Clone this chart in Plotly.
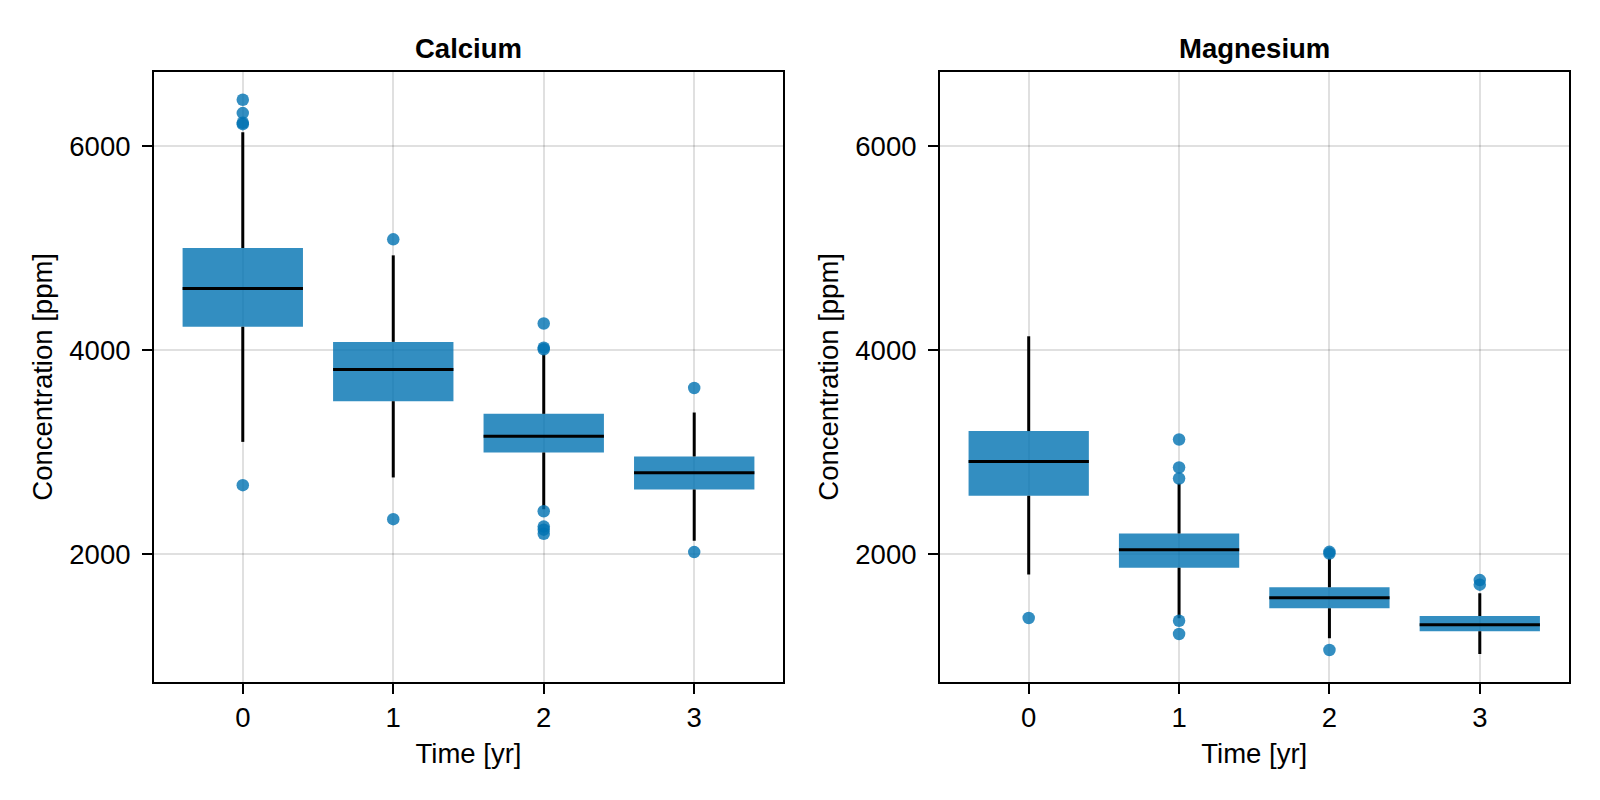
import plotly.graph_objects as go

# ---------------- data ----------------
years = [0, 1, 2, 3]

ca_q1 = [4230, 3500, 2997, 2634]
ca_median = [4605, 3810, 3157, 2797]
ca_q3 = [5003, 4082, 3376, 2958]
ca_lower = [3101, 2752, 2440, 2130]
ca_upper = [6140, 4931, 3960, 3389]
ca_out_x = [0, 0, 0, 0, 0, 1, 1, 2, 2, 2, 2, 2, 2, 2, 3, 3]
ca_out_y = [6458, 6327, 6232, 6218, 2676, 5088, 2343, 4262, 4025, 4010, 2420, 2270, 2240, 2200, 3630, 2020]

mg_q1 = [2572, 1866, 1468, 1242]
mg_median = [2909, 2042, 1572, 1307]
mg_q3 = [3207, 2203, 1674, 1392]
mg_lower = [1801, 1370, 1174, 1020]
mg_upper = [4137, 2693, 1958, 1615]
mg_out_x = [0, 1, 1, 1, 1, 1, 2, 2, 2, 3, 3]
mg_out_y = [1373, 3124, 2850, 2742, 1346, 1216, 2022, 2005, 1059, 1745, 1700]

panel_titles = ["Calcium", "Magnesium"]
x_title = "Time [yr]"
y_title = "Concentration [ppm]"
y_ticks = [2000, 4000, 6000]

# ---------------- style ----------------
FONT = "Liberation Sans, Arial, Helvetica, sans-serif"
FS = 27.5
FILL = "rgba(0,114,178,0.8)"
BOX_W = 0.8
LW = 3

fig = go.Figure()


def add_panel(q1, med, q3, lo, hi, ox, oy, xa, ya):
    fig.add_trace(go.Bar(
        x=years, y=[b - a for a, b in zip(q1, q3)], base=q1, width=BOX_W,
        marker=dict(color=FILL, line=dict(width=0)),
        xaxis=xa, yaxis=ya, showlegend=False, hoverinfo="skip"))
    wx, wy = [], []
    for x, a, b, l, h in zip(years, q1, q3, lo, hi):
        wx += [x, x, None, x, x, None]
        wy += [l, a, None, b, h, None]
    fig.add_trace(go.Scatter(x=wx, y=wy, mode="lines",
                             line=dict(color="black", width=LW),
                             xaxis=xa, yaxis=ya, showlegend=False, hoverinfo="skip"))
    mx, my = [], []
    for x, m in zip(years, med):
        mx += [x - BOX_W / 2, x + BOX_W / 2, None]
        my += [m, m, None]
    fig.add_trace(go.Scatter(x=mx, y=my, mode="lines",
                             line=dict(color="black", width=LW),
                             xaxis=xa, yaxis=ya, showlegend=False, hoverinfo="skip"))
    fig.add_trace(go.Scatter(x=ox, y=oy, mode="markers",
                             marker=dict(color=FILL, size=12.5, line=dict(width=0)),
                             xaxis=xa, yaxis=ya, showlegend=False))


add_panel(ca_q1, ca_median, ca_q3, ca_lower, ca_upper, ca_out_x, ca_out_y, "x", "y")
add_panel(mg_q1, mg_median, mg_q3, mg_lower, mg_upper, mg_out_x, mg_out_y, "x2", "y2")

all_vals = ca_lower + ca_upper + ca_out_y + mg_lower + mg_upper + mg_out_y
vmin, vmax = min(all_vals), max(all_vals)
pad = 0.05 * (vmax - vmin)
y_range = [vmin - pad, vmax + pad]
xpad = 0.05 * (max(years) - min(years) + BOX_W)
x_range = [min(years) - BOX_W / 2 - xpad, max(years) + BOX_W / 2 + xpad]

W, H = 1600, 800
dom1 = [154 / W, 783 / W]
dom2 = [940 / W, 1568.5 / W]
ydom = [(H - 681.7) / H, (H - 72) / H]

common_axis = dict(
    showline=True, linecolor="black", linewidth=2, mirror=True,
    ticks="outside", ticklen=10, tickwidth=2, tickcolor="black",
    showgrid=True, gridcolor="rgba(0,0,0,0.12)", gridwidth=1.7,
    zeroline=False, tickfont=dict(family=FONT, size=FS, color="black"),
)

xax = dict(common_axis, range=x_range, tickvals=years, ticktext=[str(y) for y in years],
           title=dict(text=x_title, font=dict(family=FONT, size=FS, color="black"), standoff=12))
yax = dict(common_axis, range=y_range, tickvals=y_ticks, ticktext=[str(t) for t in y_ticks],
           ticklabelstandoff=6,
           title=dict(text=y_title, font=dict(family=FONT, size=FS, color="black"), standoff=9))

fig.update_layout(
    width=W, height=H,
    margin=dict(l=0, r=0, t=0, b=0),
    paper_bgcolor="white", plot_bgcolor="white",
    barmode="overlay",
    xaxis=dict(xax, domain=dom1, anchor="y"),
    yaxis=dict(yax, domain=ydom, anchor="x"),
    xaxis2=dict(xax, domain=dom2, anchor="y2"),
    yaxis2=dict(yax, domain=ydom, anchor="x2"),
    annotations=[
        dict(text="<b>%s</b>" % panel_titles[0], x=(dom1[0] + dom1[1]) / 2, y=(H - 48) / H,
             xref="paper", yref="paper", xanchor="center", yanchor="middle", showarrow=False,
             font=dict(family=FONT, size=FS, color="black")),
        dict(text="<b>%s</b>" % panel_titles[1], x=(dom2[0] + dom2[1]) / 2, y=(H - 48) / H,
             xref="paper", yref="paper", xanchor="center", yanchor="middle", showarrow=False,
             font=dict(family=FONT, size=FS, color="black")),
    ],
    font=dict(family=FONT, size=FS, color="black"),
)

fig.write_html("out.html", config={"displayModeBar": False},
               post_script="document.body.style.margin='0px';")
